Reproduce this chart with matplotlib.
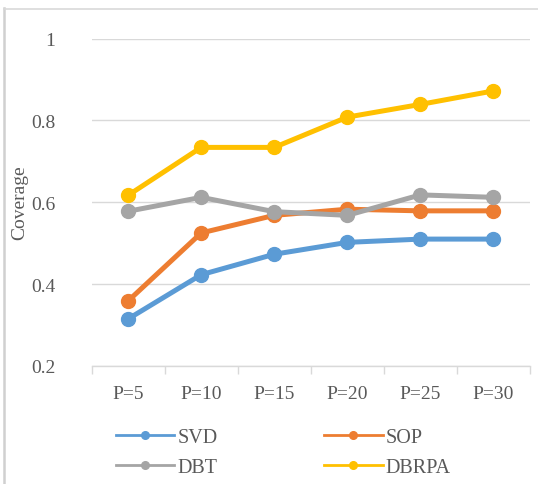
import matplotlib
matplotlib.use("Agg")
import matplotlib.pyplot as plt
from matplotlib.lines import Line2D

categories = ["P=5", "P=10", "P=15", "P=20", "P=25", "P=30"]
svd = [0.315, 0.423, 0.473, 0.502, 0.510, 0.510]
sop = [0.359, 0.525, 0.568, 0.583, 0.579, 0.579]
dbt = [0.578, 0.612, 0.577, 0.568, 0.618, 0.612]
dbrpa = [0.617, 0.734, 0.734, 0.808, 0.839, 0.872]
series_names = ["SVD", "SOP", "DBT", "DBRPA"]
y_ticks = [0.2, 0.4, 0.6, 0.8, 1.0]
y_tick_labels = ["0.2", "0.4", "0.6", "0.8", "1"]

colors = ["#5B9BD5", "#ED7D31", "#A5A5A5", "#FFC000"]
text_color = "#595959"
grid_color = "#D9D9D9"
plt.rcParams['font.family'] = ['Liberation Serif', 'DejaVu Serif']

W, H = 538, 485
fig = plt.figure(figsize=(W / 100, H / 100), dpi=100)
left, right, top, bottom = 91.6, 530, 39.5, 367
ax = fig.add_axes([left / W, 1 - bottom / H, (right - left) / W, (bottom - top) / H])

x = list(range(len(categories)))
for vals, c in zip([svd, sop, dbt, dbrpa], colors):
    ax.plot(x, vals, color=c, lw=3.6, marker="o", markersize=10,
            markerfacecolor=c, markeredgecolor=c, solid_capstyle="round",
            solid_joinstyle="round", clip_on=False)

ax.set_xlim(-0.5, len(categories) - 0.5)
ax.set_ylim(0.2, 1.0)
ax.set_yticks(y_ticks)
ax.set_yticklabels(y_tick_labels)
ax.set_xticks(x)
ax.set_xticklabels(categories)
ax.set_xticks([i - 0.5 for i in range(len(categories) + 1)], minor=True)
ax.tick_params(axis="x", which="major", length=0, pad=14, labelsize=14, labelcolor=text_color)
ax.tick_params(axis="x", which="minor", length=6, width=1, color=grid_color, direction="out")
ax.tick_params(axis="y", length=0, pad=26, labelsize=14, labelcolor=text_color)
ax.yaxis.grid(True, color=grid_color, lw=1)
ax.set_axisbelow(True)
for s in ["top", "right", "left"]:
    ax.spines[s].set_visible(False)
ax.spines["bottom"].set_color(grid_color)
ax.spines["bottom"].set_linewidth(1)

fig.text(20 / W, 1 - 203 / H, "Coverage", rotation=90, ha="center", va="center",
         fontsize=14, color=text_color)

handles = [Line2D([], [], color=c, lw=2, marker="o", markersize=5.5,
                  markerfacecolor=c, markeredgecolor=c) for c in colors]
order = [0, 2, 1, 3]
leg = fig.legend([handles[i] for i in order], [series_names[i] for i in order],
                 ncol=2, loc="upper left", bbox_to_anchor=(116 / W, 1 - 429 / H),
                 frameon=False, fontsize=14.5, handlelength=2.9, handletextpad=0.15,
                 columnspacing=5.3, labelspacing=0.55, borderaxespad=0, borderpad=0)
for t in leg.get_texts():
    t.set_color(text_color)

# outer chart border (left and top edges visible)
fig.add_artist(Line2D([4 / W, 4 / W], [0, 1 - 9 / H], transform=fig.transFigure,
                      color="#D0D0D0", lw=1.8))
fig.add_artist(Line2D([4 / W, 1], [1 - 10 / H, 1 - 10 / H], transform=fig.transFigure,
                      color="#D9D9D9", lw=1.2))

fig.savefig("out.png", dpi=100)
